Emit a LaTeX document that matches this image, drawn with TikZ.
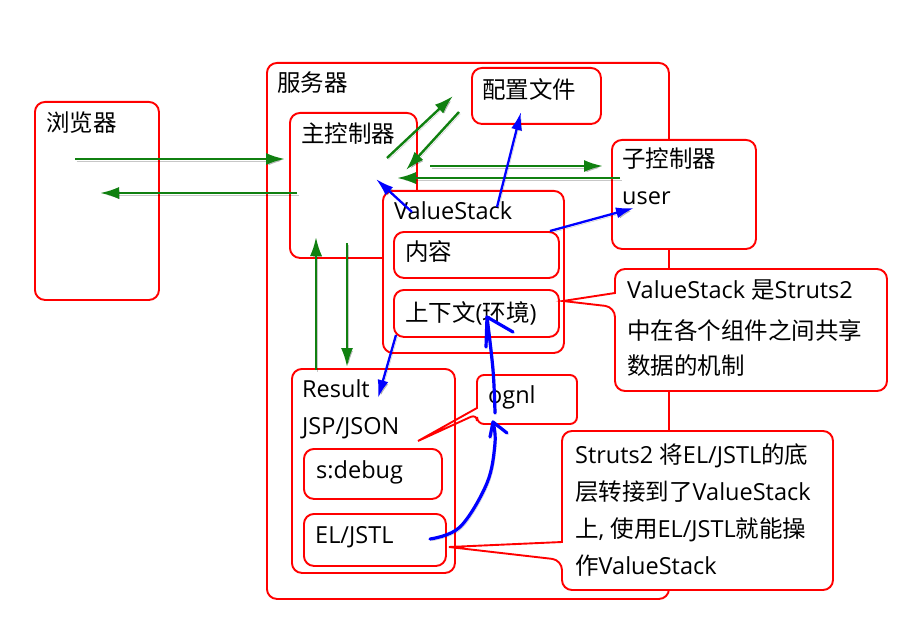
\documentclass[tikz,border=0pt]{standalone}
\usepackage{fontspec}
\setmainfont{Open Sans}
\newfontfamily\cjkfont{Noto Sans CJK SC}
\newcommand\zh[1]{{\cjkfont #1}}
\usetikzlibrary{arrows.meta}
\definecolor{boxred}{RGB}{255,0,0}
\definecolor{arrgreen}{RGB}{16,128,16}
\definecolor{arrblue}{RGB}{0,0,255}
\begin{document}
\begin{tikzpicture}[x=1pt,y=-1pt,
  box/.style={draw=boxred, line width=1.9pt, rounded corners=10pt, inner sep=0pt, anchor=north west},
  wbox/.style={box, fill=white},
  callout/.style={draw=boxred, line width=1.9pt, fill=white, rounded corners=10pt},
  lbl/.style={anchor=base west, inner sep=0pt, font=\fontsize{23.5}{28}\selectfont},
  shade/.style={preaction={draw=black, opacity=0.22, transform canvas={shift={(1.5pt,-1.8pt)}}}},
  garrow/.style={draw=arrgreen, line width=2.4pt, -{Latex[length=19pt,width=12pt]}, shade},
  barrow/.style={draw=arrblue, line width=2.3pt, -{Latex[length=18pt,width=11pt]}, shade},
  hand/.style={draw=arrblue, line width=3.2pt, line cap=round, line join=round, shade},
]
\useasboundingbox (0,0) rectangle (918,631);
\fill[white] (0,0) rectangle (918,631);

% boxes
\node[box, minimum width=402pt, minimum height=536pt] (server) at (266,62) {};
\node[wbox, minimum width=124pt, minimum height=198pt] (browser) at (34,101) {};
\node[wbox, minimum width=127pt, minimum height=145pt] (main) at (289,112) {};
\node[wbox, minimum width=129pt, minimum height=56pt] (config) at (471,67) {};
\node[wbox, minimum width=144pt, minimum height=109pt] (sub) at (611,139) {};
\node[wbox, minimum width=181pt, minimum height=162pt] (vs) at (382,190) {};
\node[box, minimum width=165pt, minimum height=46pt] (content) at (393,231) {};
\node[box, minimum width=165pt, minimum height=47pt] (context) at (393,289) {};

% callouts
\draw[callout] (615,293) -- (615,269) -- (887,269) -- (887,391) -- (615,391) -- (615,307) [sharp corners] -- (563,301) -- cycle;
\draw[callout] (562,542) -- (562,431) -- (833,431) -- (833,590) -- (562,590) -- (562,560) [sharp corners] -- (449,547) -- cycle;
\draw[callout, rounded corners=7pt] (477,408) -- (477,375) -- (577,375) -- (577,424) -- (477,424) -- (477,414) [sharp corners] -- (418,441) -- cycle;

\node[box, minimum width=163pt, minimum height=204pt] (result) at (291,368) {};
\node[box, minimum width=138pt, minimum height=50pt] (debug) at (303,448) {};
\node[box, minimum width=142pt, minimum height=52pt] (el) at (303,513) {};

% labels
\node[lbl] (tbrowser) at (46,132) {\zh{浏览器}};
\node[lbl] (tserver) at (277,92) {\zh{服务器}};
\node[lbl] (tmain) at (301,143) {\zh{主控制器}};
\node[lbl] (tconfig) at (482,99) {\zh{配置文件}};
\node[lbl] (tsub) at (622,168) {\zh{子控制器}};
\node[lbl] (tuser) at (622,205) {user};
\node[lbl] (tvs) at (394,219) {ValueStack};
\node[lbl] (tcontent) at (405,260) {\zh{内容}};
\node[lbl] (tcontext) at (405,321) {\zh{上下文}(\zh{环境})};
\node[lbl] (tca) at (627,298) {ValueStack \zh{是}Struts2};
\node[lbl] (tcb) at (627,339) {\zh{中在各个组件之间共享}};
\node[lbl] (tcc) at (627,374) {\zh{数据的机制}};
\node[lbl] (tresult) at (302,397) {Result};
\node[lbl] (tjsp) at (302,434) {JSP/JSON};
\node[lbl] (tdebug) at (316,478) {s:debug};
\node[lbl] (tel) at (315,543) {EL/JSTL};
\node[lbl] (tognl) at (488,403) {ognl};
\node[lbl] (tda) at (575,463) {Struts2 \zh{将}EL/JSTL\zh{的底}};
\node[lbl] (tdb) at (575,500) {\zh{层转接到了}ValueStack};
\node[lbl] (tdc) at (575,537) {\zh{上}, \zh{使用}EL/JSTL\zh{就能操}};
\node[lbl] (tdd) at (575,574) {\zh{作}ValueStack};

% arrow end points
\coordinate (g1s) at (75,159);  \coordinate (g1e) at (285,159);
\coordinate (g2s) at (297,193); \coordinate (g2e) at (100,193);
\coordinate (g3s) at (316,370); \coordinate (g3e) at (316,237);
\coordinate (g4s) at (347,243); \coordinate (g4e) at (347,367);
\coordinate (g5s) at (387,158); \coordinate (g5e) at (453,96);
\coordinate (g6s) at (459,112); \coordinate (g6e) at (406,170);
\coordinate (g7s) at (430,166); \coordinate (g7e) at (603,166);
\coordinate (g8s) at (620,178); \coordinate (g8e) at (397,178);
\coordinate (b1s) at (412,212); \coordinate (b1e) at (376,179);
\coordinate (b2s) at (497,207); \coordinate (b2e) at (521,112);
\coordinate (b3s) at (550,231); \coordinate (b3e) at (634,208);
\coordinate (b4s) at (396,335); \coordinate (b4e) at (378,398);
\coordinate (c1) at (430,539);
\coordinate (c2) at (460,527);
\coordinate (c3) at (487,483);
\coordinate (c4) at (495,443);
\coordinate (t1) at (493,422);
\coordinate (t1a) at (490,437); \coordinate (t1b) at (507,433);
\coordinate (d1) at (495,413);
\coordinate (d2) at (493,370);
\coordinate (t2) at (487,317);
\coordinate (t2a) at (486,347); \coordinate (t2b) at (513,332);

% green arrows
\draw[garrow] (g1s) -- (g1e);
\draw[garrow] (g2s) -- (g2e);
\draw[garrow] (g3s) -- (g3e);
\draw[garrow] (g4s) -- (g4e);
\draw[garrow] (g5s) -- (g5e);
\draw[garrow] (g6s) -- (g6e);
\draw[garrow] (g7s) -- (g7e);
\draw[garrow] (g8s) -- (g8e);

% blue arrows
\draw[barrow] (b1s) -- (b1e);
\draw[barrow] (b2s) -- (b2e);
\draw[barrow] (b3s) -- (b3e);
\draw[barrow] (b4s) -- (b4e);

% hand-drawn blue arrows
\draw[hand] plot[smooth, tension=0.6] coordinates {(c1) (c2) (c3) (c4) (t1)};
\draw[hand] (t1a) -- (t1) -- (t1b);
\draw[hand] plot[smooth, tension=0.6] coordinates {(d1) (d2) (t2)};
\draw[hand] (t2a) -- (t2) -- (t2b);
\end{tikzpicture}
\end{document}
